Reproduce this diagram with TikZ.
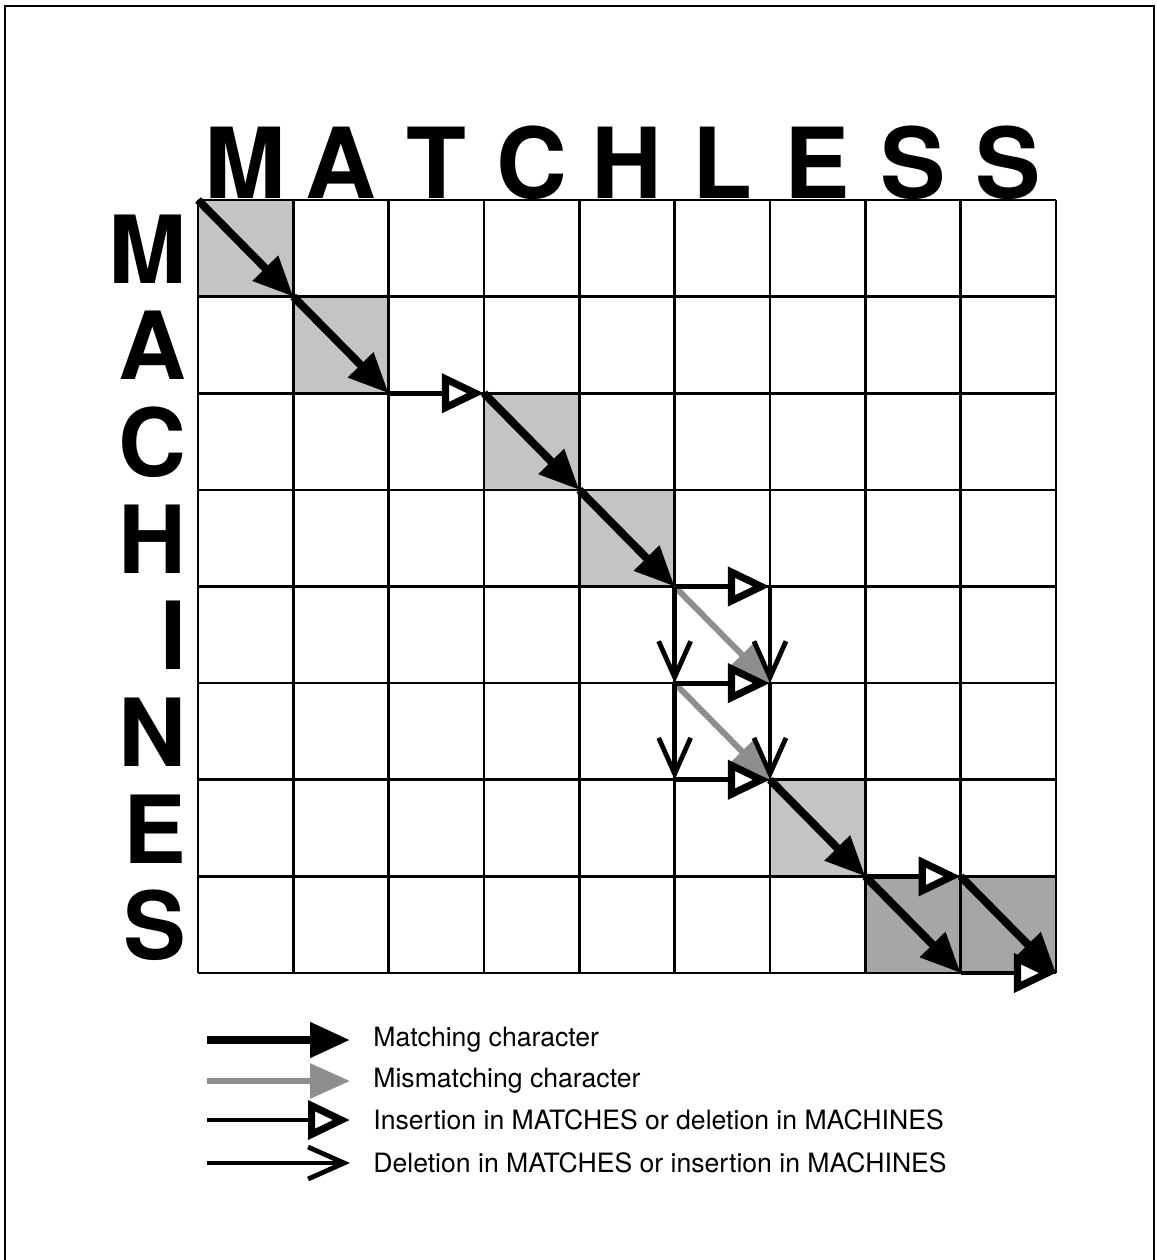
\documentclass[tikz,border=0pt]{standalone}
\usepackage{fontspec}
\setmainfont{TeX Gyre Heros}
\usepackage{tikz}
\usetikzlibrary{arrows.meta,positioning}
\definecolor{cellLight}{HTML}{C4C4C4}
\definecolor{cellDark}{HTML}{A6A6A6}
\definecolor{misGray}{HTML}{8E8E8E}
\tikzset{
  gridline/.style={line width=1.3pt},
  frameline/.style={line width=1.4pt},
  big/.style={font=\fontsize{49}{49}\selectfont\bfseries, inner sep=0pt},
  matchArr/.style={line width=4pt, -{Triangle[length=20pt,width=17pt]}},
  misArr/.style={draw=misGray, line width=3pt,
    -{Triangle[length=20pt,width=17pt,fill=misGray]}},
  insArr/.style={line width=2.4pt,
    -{Triangle[length=21pt,width=19pt,line width=3.6pt,fill=white]}},
  delArr/.style={line width=2.4pt,
    -{Straight Barb[length=18pt,width=16pt,line width=2.4pt]}},
  legend/.style={font=\fontsize{13.3}{16}\selectfont, anchor=west, inner sep=0pt}
}

\begin{document}
\begin{tikzpicture}[x=0.5pt,y=-0.5pt]
  \useasboundingbox (0,0) rectangle (1157,1260);
  % outer frame
  \draw[frameline] (5,1265) -- (5,6) -- (1154,6) -- (1154,1265);

  % grid points
  \foreach \i in {0,...,9}
    \foreach \j in {0,...,8}
      \coordinate (g-\i-\j) at ({198+95.33*\i},{200+96.625*\j});

  % shaded cells
  \foreach \i/\j/\col in {0/0/cellLight,1/1/cellLight,3/2/cellLight,4/3/cellLight,
                          6/6/cellLight,7/7/cellDark,8/7/cellDark}
  {
    \pgfmathtruncatemacro{\ii}{\i+1}
    \pgfmathtruncatemacro{\jj}{\j+1}
    \fill[\col] (g-\i-\j) rectangle (g-\ii-\jj);
  }

  % grid lines
  \foreach \i in {0,...,9} \draw[gridline] (g-\i-0) -- (g-\i-8);
  \foreach \j in {0,...,8} \draw[gridline] (g-0-\j) -- (g-9-\j);

  % MATCHLESS across the top
  \foreach \c [count=\i from 0] in {M,A,T,C,H,L,E,S,S}
    \node[big, anchor=base] (top\i) at ({198+95.33*(\i+0.5)},198) {\c};
  % MACHINES down the side
  \foreach \c [count=\j from 0] in {M,A,C,H,I,N,E,S}
    \node[big, anchor=base east, font=\fontsize{47}{47}\selectfont\bfseries]
      (side\j) at (187,{200+96.625*(\j+0.5)+35}) {\c};

  % mismatches
  \draw[misArr] (g-5-4) -- (g-6-5);
  \draw[misArr] (g-5-5) -- (g-6-6);
  % insertions
  \foreach \a/\b in {2-2/3-2,5-4/6-4,5-5/6-5,5-6/6-6,7-7/8-7,8-8/9-8}
    \draw[insArr] (g-\a) -- (g-\b);
  % deletions
  \foreach \a/\b in {5-4/5-5,6-4/6-5,5-5/5-6,6-5/6-6}
    \draw[delArr] (g-\a) -- (g-\b);
  % matches
  \foreach \a/\b in {0-0/1-1,1-1/2-2,3-2/4-3,4-3/5-4,6-6/7-7,7-7/8-8,8-7/9-8}
    \draw[matchArr] (g-\a) -- (g-\b);

  % legend
  \foreach \y/\sty/\txt [count=\k] in {
      1040/matchArr/Matching character,
      1081/misArr/Mismatching character,
      1120/insArr/Insertion in MATCHES or deletion in MACHINES,
      1163/delArr/Deletion in MATCHES or insertion in MACHINES}
  {
    \coordinate (legA\k) at (207,\y);
    \coordinate (legB\k) at (350,\y);
    \draw[\sty] (legA\k) -- (legB\k);
    \node[legend] (legT\k) at (373,\y) {\txt};
  }
\end{tikzpicture}
\end{document}
